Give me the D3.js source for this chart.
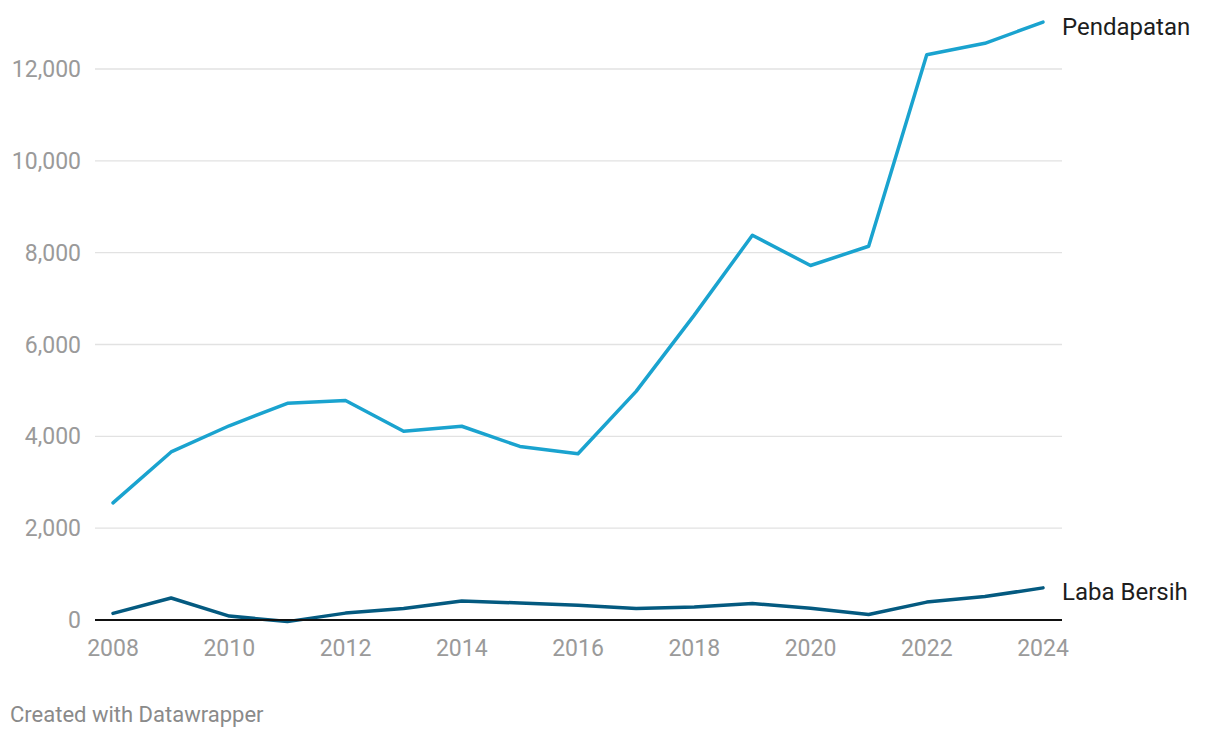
<!DOCTYPE html>
<html>
<head>
<meta charset="utf-8">
<script src="https://cdn.jsdelivr.net/npm/d3@7"></script>
<style>
  body { margin: 0; background: #fff; font-family: Roboto, "Noto Sans", sans-serif; }
</style>
</head>
<body>
<svg id="chart" width="1220" height="738"></svg>
<script>
// Data
const years = d3.range(2008, 2025);
const pendapatan = [2550, 3660, 4230, 4720, 4780, 4110, 4220, 3780, 3620, 4980, 6640, 8380, 7720, 8140, 12310, 12560, 13020];
const labaBersih = [145, 480, 85, -35, 150, 250, 415, 370, 320, 250, 285, 360, 255, 120, 390, 510, 700];
const yTicks = [0, 2000, 4000, 6000, 8000, 10000, 12000];
const xTicks = [2008, 2010, 2012, 2014, 2016, 2018, 2020, 2022, 2024];

const svg = d3.select("#chart");

// Scales
const x = d3.scaleLinear([2008, 2024], [113, 1043]);
const y = d3.scaleLinear([0, 12000], [620, 69]);
const gridLeft = 95, gridRight = 1062;

// Gridlines
svg.append("g")
  .selectAll("line")
  .data(yTicks.filter(d => d !== 0))
  .join("line")
    .attr("x1", gridLeft)
    .attr("x2", gridRight)
    .attr("y1", d => y(d))
    .attr("y2", d => y(d))
    .attr("stroke", "#e2e2e2")
    .attr("stroke-width", 1.3);

// Y axis labels
const fmt = d3.format(",");
svg.append("g")
  .selectAll("text")
  .data(yTicks)
  .join("text")
    .attr("x", 81)
    .attr("y", d => y(d))
    .attr("dy", "0.35em")
    .attr("text-anchor", "end")
    .attr("fill", "#9a9a9a")
    .style("font-size", "23px")
    .text(d => fmt(d));

// X axis labels
svg.append("g")
  .selectAll("text")
  .data(xTicks)
  .join("text")
    .attr("x", d => x(d))
    .attr("y", 656)
    .attr("text-anchor", "middle")
    .attr("fill", "#9a9a9a")
    .style("font-size", "23px")
    .text(d => d);

// Lines
const line = d3.line()
  .x((d, i) => x(years[i]))
  .y(d => y(d));

svg.append("path")
  .datum(labaBersih)
  .attr("d", line)
  .attr("fill", "none")
  .attr("stroke", "#045a80")
  .attr("stroke-width", 3.5)
  .attr("stroke-linejoin", "round")
  .attr("stroke-linecap", "round");

// Zero baseline
svg.append("line")
  .attr("x1", gridLeft)
  .attr("x2", gridRight)
  .attr("y1", y(0))
  .attr("y2", y(0))
  .attr("stroke", "#111")
  .attr("stroke-width", 1.8);

svg.append("path")
  .datum(pendapatan)
  .attr("d", line)
  .attr("fill", "none")
  .attr("stroke", "#1aa3cf")
  .attr("stroke-width", 3.5)
  .attr("stroke-linejoin", "round")
  .attr("stroke-linecap", "round");

// Series labels
svg.append("text")
  .attr("x", 1062)
  .attr("y", y(pendapatan[pendapatan.length - 1]) + 13)
  .attr("fill", "#1d1d1d")
  .style("font-size", "24px")
  .text("Pendapatan");

svg.append("text")
  .attr("x", 1062)
  .attr("y", y(labaBersih[labaBersih.length - 1]) + 12)
  .attr("fill", "#1d1d1d")
  .style("font-size", "24px")
  .text("Laba Bersih");

// Footer
svg.append("text")
  .attr("x", 10)
  .attr("y", 722)
  .attr("fill", "#8a8a8a")
  .style("font-size", "22px")
  .text("Created with Datawrapper");
</script>
</body>
</html>
